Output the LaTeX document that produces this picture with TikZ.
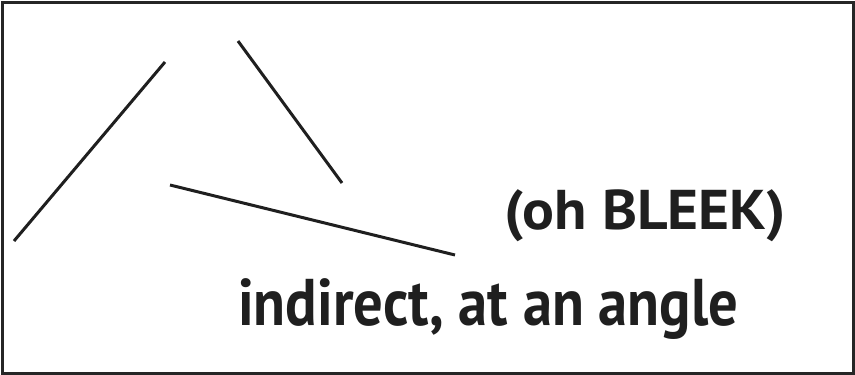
\documentclass[tikz,border=0pt]{standalone}
\usepackage{fontspec}
\setmainfont{PT Sans}
\usepackage{graphicx}
\begin{document}
\begin{tikzpicture}[x=1pt,y=-1pt,
  stroke/.style={line width=3pt, color=black!88},
  label/.style={inner sep=0pt, anchor=base west, text=black!88}]
\useasboundingbox (0,0) rectangle (855,375);
\draw[line width=3pt, color=black!85] (2,2) rectangle (853,373);
\coordinate (a1) at (14,241);
\coordinate (a2) at (165,62);
\coordinate (b1) at (238,41);
\coordinate (b2) at (342,183);
\coordinate (c1) at (170,185);
\coordinate (c2) at (455,255);
\draw[stroke] (a1) -- (a2);
\draw[stroke] (b1) -- (b2);
\draw[stroke] (c1) -- (c2);
\node[label] (t1) at (504,229) {\resizebox{282pt}{\height}{\fontsize{56}{56}\selectfont\bfseries (oh BLEEK)}};
\node[label] (t2) at (238,325) {\resizebox{500pt}{\height}{\fontsize{66}{66}\selectfont\bfseries indirect, at an angle}};
\end{tikzpicture}
\end{document}
